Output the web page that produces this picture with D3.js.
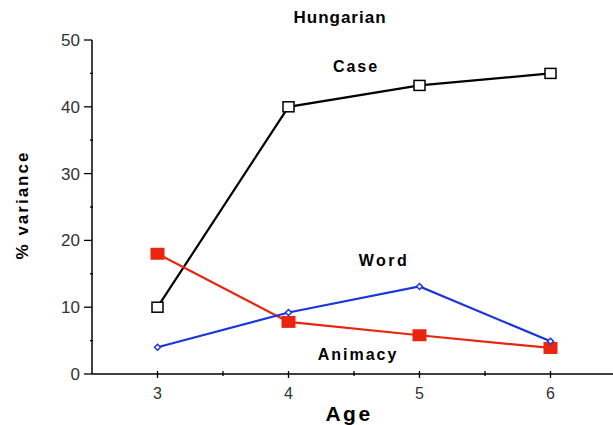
<!DOCTYPE html>
<html>
<head>
<meta charset="utf-8">
<script src="https://cdn.jsdelivr.net/npm/d3@7"></script>
<style>
body { margin: 0; background: #fff; }
text { font-family: "Liberation Sans", Arial, sans-serif; }
</style>
</head>
<body>
<script>
var width = 613;
var height = 425;

var ages = [3, 4, 5, 6];
var caseVals = [10, 40, 43.2, 45];
var animacyVals = [18, 7.8, 5.8, 3.9];
var wordVals = [4, 9.2, 13.1, 4.9];
var yTicks = [0, 10, 20, 30, 40, 50];
var yMinor = [5, 15, 25, 35, 45];
var xMinor = [3.5, 4.5, 5.5];

var svg = d3.select("body")
    .append("svg")
    .attr("width", width)
    .attr("height", height);

var x = d3.scaleLinear().domain([2.5, 6.5]).range([92, 616]);
var y = d3.scaleLinear().domain([0, 50]).range([374, 40]);

// y axis
svg.append("line")
    .attr("x1", 92).attr("x2", 92)
    .attr("y1", y(50)).attr("y2", y(0))
    .attr("stroke", "#000").attr("stroke-width", 1.5);

svg.selectAll(".ytick")
    .data(yTicks)
    .enter()
    .append("line")
    .attr("x1", 84).attr("x2", 92)
    .attr("y1", function(d) { return y(d); })
    .attr("y2", function(d) { return y(d); })
    .attr("stroke", "#000").attr("stroke-width", 1.3);

svg.selectAll(".yminor")
    .data(yMinor)
    .enter()
    .append("line")
    .attr("x1", 90).attr("x2", 93)
    .attr("y1", function(d) { return y(d); })
    .attr("y2", function(d) { return y(d); })
    .attr("stroke", "#000").attr("stroke-width", 1.3);

svg.selectAll(".ylab")
    .data(yTicks)
    .enter()
    .append("text")
    .attr("x", 80)
    .attr("y", function(d) { return y(d) + 6; })
    .attr("text-anchor", "end")
    .attr("font-size", "17px")
    .attr("fill", "#333")
    .text(function(d) { return d; });

// x axis
svg.append("line")
    .attr("x1", x(2.5)).attr("x2", width)
    .attr("y1", 374).attr("y2", 374)
    .attr("stroke", "#000").attr("stroke-width", 1.5);

svg.selectAll(".xtick")
    .data(ages)
    .enter()
    .append("line")
    .attr("x1", function(d) { return x(d); })
    .attr("x2", function(d) { return x(d); })
    .attr("y1", 371).attr("y2", 378)
    .attr("stroke", "#000").attr("stroke-width", 1.3);

svg.selectAll(".xminor")
    .data(xMinor)
    .enter()
    .append("line")
    .attr("x1", function(d) { return x(d); })
    .attr("x2", function(d) { return x(d); })
    .attr("y1", 371).attr("y2", 376)
    .attr("stroke", "#000").attr("stroke-width", 1.3);

svg.selectAll(".xlab")
    .data(ages)
    .enter()
    .append("text")
    .attr("x", function(d) { return x(d); })
    .attr("y", 399)
    .attr("text-anchor", "middle")
    .attr("font-size", "16px")
    .attr("fill", "#333")
    .text(function(d) { return d; });

// titles
function boldText(tx, ty, str, size, spacing, rot) {
    var t = svg.append("text")
        .attr("x", tx).attr("y", ty)
        .attr("text-anchor", "middle")
        .attr("font-weight", "bold")
        .attr("font-size", size)
        .attr("letter-spacing", spacing)
        .text(str);
    if (rot) t.attr("transform", "rotate(-90," + tx + "," + ty + ")");
    return t;
}
boldText(340, 23, "Hungarian", "17px", "1px");
boldText(356, 72, "Case", "16px", "2px");
boldText(384, 266, "Word", "16px", "2.5px");
boldText(358, 360, "Animacy", "16px", "2px");
boldText(349, 421, "Age", "21px", "2.5px");
boldText(28, 205, "% variance", "17px", "2px", true);

var line = d3.line()
    .x(function(d) { return x(d[0]); })
    .y(function(d) { return y(d[1]); });

function series(vals, color, w) {
    var pts = ages.map(function(a, i) { return [a, vals[i]]; });
    svg.append("path")
        .datum(pts)
        .attr("d", line)
        .attr("fill", "none")
        .attr("stroke", color)
        .attr("stroke-width", w);
    return pts;
}

var casePts = series(caseVals, "#000", 2.2);
var animPts = series(animacyVals, "#e8260f", 2.2);
var wordPts = series(wordVals, "#1a35e0", 2.2);

svg.selectAll(".casem")
    .data(casePts)
    .enter()
    .append("rect")
    .attr("x", function(d) { return x(d[0]) - 5.5; })
    .attr("y", function(d) { return y(d[1]) - 5; })
    .attr("width", 11).attr("height", 10)
    .attr("fill", "#fff").attr("stroke", "#000").attr("stroke-width", 1.5);

svg.selectAll(".animm")
    .data(animPts)
    .enter()
    .append("rect")
    .attr("x", function(d) { return x(d[0]) - 7; })
    .attr("y", function(d) { return y(d[1]) - 6; })
    .attr("width", 14).attr("height", 12)
    .attr("fill", "#e8260f");

svg.selectAll(".wordm")
    .data(wordPts)
    .enter()
    .append("path")
    .attr("d", "M0,-3L3,0L0,3L-3,0Z")
    .attr("transform", function(d) { return "translate(" + x(d[0]) + "," + y(d[1]) + ")"; })
    .attr("fill", "#fff").attr("stroke", "#1a35e0").attr("stroke-width", 1.5);
</script>
</body>
</html>
